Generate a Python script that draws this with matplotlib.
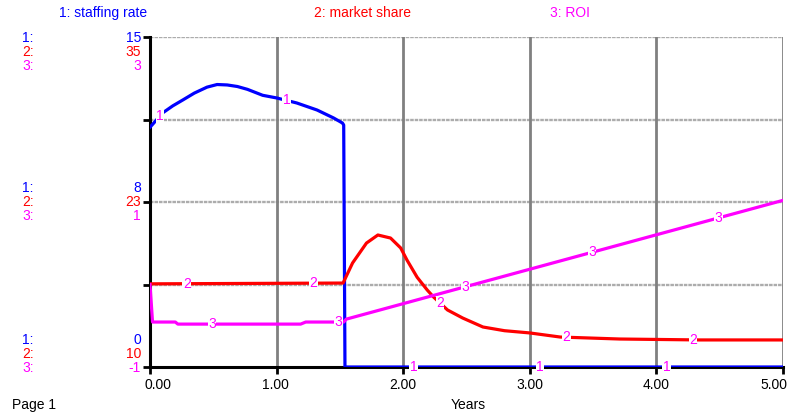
import numpy as np
import matplotlib
matplotlib.use("Agg")
import matplotlib.pyplot as plt

plt.rcParams['font.family'] = ['Liberation Sans', 'DejaVu Sans']

# series 1: staffing rate
t1 = [0.0, 0.016, 0.10, 0.18, 0.26, 0.35, 0.45, 0.53, 0.61, 0.69, 0.77, 0.89, 1.00, 1.16,
      1.32, 1.45, 1.52, 1.53, 1.54, 5.0]
v1 = [10.9, 11.0, 11.55, 11.87, 12.14, 12.45, 12.72, 12.84, 12.82, 12.75, 12.62, 12.35, 12.23, 12.0,
      11.68, 11.32, 11.09, 11.0, 0.0, 0.0]

# series 2: market share
t2 = [0.0, 1.525, 1.60, 1.71, 1.80, 1.90, 1.98, 2.03, 2.11, 2.19, 2.24, 2.35, 2.47, 2.63,
      2.8, 3.0, 3.24, 3.71, 4.34, 5.0]
v2 = [16.3, 16.36, 17.88, 19.39, 20.0, 19.77, 19.02, 18.1, 16.8, 15.83, 15.3, 14.32, 13.71, 13.03,
      12.75, 12.58, 12.27, 12.12, 12.05, 12.05]

# series 3: ROI
t3 = [0.0, 0.02, 0.20, 0.22, 1.19, 1.23, 1.53, 1.55, 5.0]
v3 = [0.0, -0.455, -0.455, -0.48, -0.48, -0.455, -0.455, -0.42, 1.02]

names = ["1: staffing rate", "2: market share", "3: ROI"]
colors = ["#0000ff", "#ff0000", "#ff00ff"]
scales = [(0, 15), (10, 35), (-1, 3)]
mid_labels = ["8", "23", "1"]
xticks = [0, 1, 2, 3, 4, 5]

fig = plt.figure(figsize=(7.92, 4.16), dpi=100)
ax = fig.add_axes([150 / 792, 49 / 416, 633 / 792, 330 / 416])
ax.set_xlim(0, 5)
ax.set_ylim(0, 1)

for y in [0.25, 0.5, 0.75, 1.0]:
    ax.axhline(y, color="#acacac", lw=1.7, ls=(0, (1.5, 0.4)), zorder=1)
for x in xticks[1:]:
    ax.axvline(x, color="#808080", lw=2, zorder=1)

series = [(t1, v1), (t2, v2), (t3, v3)]
label_starts = [0.08, 0.29, 0.49]
for i, (t, v) in enumerate(series):
    lo, hi = scales[i]
    vn = (np.array(v) - lo) / (hi - lo)
    ax.plot(t, vn, color=colors[i], lw=2.3, zorder=6, solid_joinstyle="round")
    for k in range(5):
        tx = label_starts[i] + k
        ty = np.interp(tx, t, vn)
        ax.text(tx, ty, str(i + 1), color="#ff00ff", fontsize=10, ha="center", va="center",
                zorder=7, bbox=dict(facecolor="white", edgecolor="none", pad=0.3))

for s in ["top", "right"]:
    ax.spines[s].set_visible(False)
for s in ["left", "bottom"]:
    ax.spines[s].set_linewidth(2.2)
    ax.spines[s].set_zorder(5)

ax.set_yticks([0, 0.25, 0.5, 0.75, 1.0])
ax.set_yticklabels([])
ax.set_xticks(xticks)
ax.set_xticklabels([])
ax.tick_params(axis="y", length=5, width=2, direction="out")
ax.tick_params(axis="x", length=5, width=2, direction="out")

# x tick labels (end labels pulled inward as in the original)
tick_px = [158, 275, 403, 530, 656, 774]
for x, px in zip(xticks, tick_px):
    fig.text(px / 792, 1 - 385 / 416, "%.2f" % x, fontsize=10, ha="center", va="center")

# header
head_x = [103, 363, 570]
for i in range(3):
    fig.text(head_x[i] / 792, 1 - 13 / 416, names[i], color=colors[i], fontsize=10,
             ha="center", va="center")

# left scale labels
rows = [
    ([38, 52, 66], [str(s[1]) for s in scales]),
    ([188, 202, 216], mid_labels),
    ([340, 354, 368], [str(s[0]) for s in scales]),
]
for ys, labs in rows:
    for i in range(3):
        fig.text(22 / 792, 1 - ys[i] / 416, "%d:" % (i + 1), color=colors[i], fontsize=10,
                 ha="left", va="center")
        fig.text(141 / 792, 1 - ys[i] / 416, labs[i], color=colors[i], fontsize=10,
                 ha="right", va="center")

fig.text(12 / 792, 1 - 405 / 416, "Page 1", fontsize=10, ha="left", va="center")
fig.text(468 / 792, 1 - 405 / 416, "Years", fontsize=10, ha="center", va="center")

fig.savefig("out.png", dpi=100)
